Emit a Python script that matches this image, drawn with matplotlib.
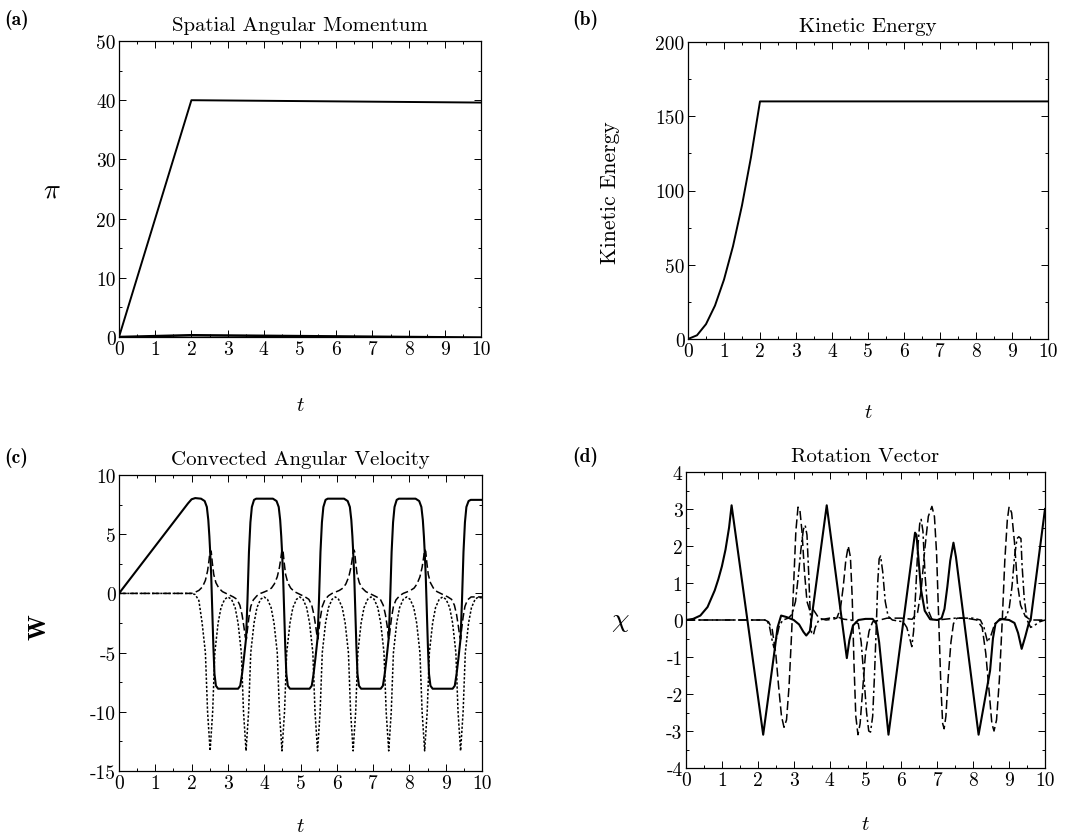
import matplotlib
matplotlib.use("Agg")
import matplotlib.pyplot as plt
from matplotlib.ticker import MultipleLocator
import warnings
warnings.filterwarnings("ignore")

plt.rcParams['font.family'] = ['cmr10', 'DejaVu Serif']
plt.rcParams['mathtext.fontset'] = 'cm'
plt.rcParams['axes.unicode_minus'] = False
plt.rcParams['axes.formatter.use_mathtext'] = False

# ---------------- data ----------------
# (a) spatial angular momentum
pi_t = [0.0, 0.5, 1.0, 1.5, 2.0, 6.0, 10.0]
pi_main = [0.0, 10.0, 20.0, 30.0, 40.0, 39.8, 39.6]
pi_small_t = [0.0, 2.0, 6.0, 10.0]
pi_small = [0.0, 0.3, 0.1, -0.1]

# (b) kinetic energy
ke_t = [0.0, 0.25, 0.5, 0.75, 1.0, 1.25, 1.5, 1.75, 2.0, 10.0]
ke = [0.0, 2.5, 10.0, 22.5, 40.0, 62.5, 90.0, 122.5, 160.0, 160.0]

# (c) convected angular velocity: solid component
w1_t = [0, 0.5, 1.0, 1.5, 1.9, 2.0, 2.1,
        2.26, 2.36, 2.42, 2.46, 2.49, 2.51, 2.54, 2.57, 2.60, 2.63, 2.67, 2.73,
        3.28, 3.34, 3.39, 3.44, 3.50, 3.54, 3.58, 3.62, 3.66, 3.72, 3.78,
        4.24, 4.34, 4.40, 4.44, 4.47, 4.49, 4.52, 4.55, 4.58, 4.61, 4.65, 4.71,
        5.25, 5.31, 5.36, 5.41, 5.47, 5.51, 5.55, 5.59, 5.63, 5.69, 5.75,
        6.20, 6.30, 6.36, 6.40, 6.43, 6.45, 6.48, 6.51, 6.54, 6.57, 6.61, 6.67,
        7.21, 7.27, 7.32, 7.37, 7.43, 7.47, 7.51, 7.55, 7.59, 7.65, 7.71,
        8.17, 8.27, 8.33, 8.37, 8.40, 8.42, 8.45, 8.48, 8.51, 8.54, 8.58, 8.64,
        9.19, 9.25, 9.30, 9.35, 9.41, 9.45, 9.49, 9.53, 9.57, 9.63, 9.69, 10.0]
w1 = [0, 2.0, 4.0, 6.0, 7.6, 7.95, 8.05,
      8.0, 7.8, 7.3, 6.2, 4.8, 3.6, 1.5, -1.5, -4.5, -6.8, -7.8, -8.05,
      -8.05, -7.8, -6.8, -5.5, -3.8, -0.5, 3.5, 6.0, 7.3, 7.9, 8.0,
      8.0, 7.8, 7.3, 6.2, 4.8, 3.6, 1.5, -1.5, -4.5, -6.8, -7.8, -8.05,
      -8.05, -7.8, -6.8, -5.5, -3.8, -0.5, 3.5, 6.0, 7.3, 7.9, 8.0,
      8.0, 7.8, 7.3, 6.2, 4.8, 3.6, 1.5, -1.5, -4.5, -6.8, -7.8, -8.05,
      -8.05, -7.8, -6.8, -5.5, -3.8, -0.5, 3.5, 6.0, 7.3, 7.9, 8.0,
      8.0, 7.8, 7.3, 6.2, 4.8, 3.6, 1.5, -1.5, -4.5, -6.8, -7.8, -8.05,
      -8.05, -7.8, -6.8, -5.5, -3.8, -0.5, 3.5, 6.0, 7.3, 7.8, 7.9, 7.9]

# (c) dashed component
w2_t = [0, 2.0, 2.1, 2.2, 2.3, 2.38, 2.44, 2.48, 2.51, 2.54, 2.57, 2.61, 2.67, 2.75, 2.85,
        2.95, 3.05, 3.15, 3.25, 3.33, 3.39, 3.44, 3.48, 3.51, 3.54, 3.58, 3.63, 3.70, 3.80, 3.90,
        4.0, 4.1, 4.2, 4.28, 4.36, 4.42, 4.46, 4.49, 4.52, 4.55, 4.59, 4.65, 4.73, 4.83,
        4.93, 5.03, 5.13, 5.23, 5.31, 5.37, 5.42, 5.46, 5.48, 5.51, 5.55, 5.60, 5.67, 5.77, 5.87,
        5.97, 6.07, 6.17, 6.25, 6.33, 6.39, 6.43, 6.46, 6.49, 6.52, 6.56, 6.62, 6.70, 6.80,
        6.90, 7.00, 7.10, 7.20, 7.28, 7.34, 7.39, 7.42, 7.44, 7.47, 7.51, 7.56, 7.63, 7.73, 7.83,
        7.93, 8.03, 8.13, 8.21, 8.29, 8.35, 8.39, 8.42, 8.45, 8.48, 8.52, 8.58, 8.66, 8.76,
        8.86, 8.96, 9.06, 9.16, 9.24, 9.30, 9.35, 9.39, 9.41, 9.44, 9.48, 9.53, 9.60, 9.70, 9.85, 10.0]
w2 = [0, 0.0, 0.1, 0.25, 0.55, 1.1, 1.9, 2.8, 3.65, 3.55, 2.6, 1.6, 0.9, 0.45, 0.15,
      0.0, -0.15, -0.3, -0.5, -1.0, -1.8, -2.8, -3.7, -3.85, -3.0, -2.0, -1.1, -0.55, -0.2, 0.0,
      0.12, 0.25, 0.45, 0.8, 1.4, 2.2, 3.0, 3.7, 3.55, 2.6, 1.6, 0.9, 0.45, 0.15,
      0.0, -0.15, -0.3, -0.5, -1.0, -1.8, -2.8, -3.7, -3.85, -3.0, -2.0, -1.1, -0.55, -0.2, 0.0,
      0.12, 0.25, 0.45, 0.8, 1.4, 2.2, 3.0, 3.7, 3.55, 2.6, 1.6, 0.9, 0.45, 0.15,
      0.0, -0.15, -0.3, -0.5, -1.0, -1.8, -2.8, -3.7, -3.85, -3.0, -2.0, -1.1, -0.55, -0.2, 0.0,
      0.12, 0.25, 0.45, 0.8, 1.4, 2.2, 3.0, 3.7, 3.55, 2.6, 1.6, 0.9, 0.45, 0.15,
      0.0, -0.15, -0.3, -0.5, -1.0, -1.8, -2.8, -3.7, -3.85, -3.0, -2.0, -1.1, -0.55, -0.3, -0.3, -0.3]

# (c) dotted component
w3_t = [0, 2.0, 2.1, 2.2, 2.29, 2.38, 2.44, 2.51, 2.58, 2.64, 2.73, 2.81, 2.91, 3.0,
        3.10, 3.20, 3.28, 3.37, 3.43, 3.50, 3.57, 3.63, 3.72, 3.80, 3.90, 3.995,
        4.09, 4.19, 4.27, 4.36, 4.42, 4.49, 4.56, 4.62, 4.71, 4.79, 4.89, 4.98,
        5.07, 5.17, 5.25, 5.34, 5.40, 5.47, 5.54, 5.60, 5.69, 5.77, 5.87, 5.96,
        6.05, 6.15, 6.23, 6.32, 6.38, 6.45, 6.52, 6.58, 6.67, 6.75, 6.85, 6.94,
        7.03, 7.13, 7.21, 7.30, 7.36, 7.43, 7.50, 7.56, 7.65, 7.73, 7.83, 7.925,
        8.02, 8.12, 8.20, 8.29, 8.35, 8.42, 8.49, 8.55, 8.64, 8.72, 8.82, 8.915,
        9.01, 9.11, 9.19, 9.28, 9.34, 9.41, 9.48, 9.54, 9.63, 9.71, 9.81, 9.90, 10.0]
w3 = [0, 0.0, -0.1, -0.6, -2.5, -5.0, -10.0, -13.3, -10.0, -5.0, -2.5, -1.2, -0.5, -0.3,
      -0.5, -1.2, -2.5, -5.0, -10.0, -13.3, -10.0, -5.0, -2.5, -1.2, -0.5, -0.3,
      -0.5, -1.2, -2.5, -5.0, -10.0, -13.3, -10.0, -5.0, -2.5, -1.2, -0.5, -0.3,
      -0.5, -1.2, -2.5, -5.0, -10.0, -13.3, -10.0, -5.0, -2.5, -1.2, -0.5, -0.3,
      -0.5, -1.2, -2.5, -5.0, -10.0, -13.3, -10.0, -5.0, -2.5, -1.2, -0.5, -0.3,
      -0.5, -1.2, -2.5, -5.0, -10.0, -13.3, -10.0, -5.0, -2.5, -1.2, -0.5, -0.3,
      -0.5, -1.2, -2.5, -5.0, -10.0, -13.3, -10.0, -5.0, -2.5, -1.2, -0.5, -0.3,
      -0.5, -1.2, -2.5, -5.0, -10.0, -13.3, -10.0, -5.0, -2.5, -1.2, -0.5, -0.3, -0.4]

# (d) rotation vector: solid component
x1_t = [0, 0.2, 0.4, 0.6, 0.8, 0.9, 1.0, 1.1, 1.2, 1.27,
        2.15,
        2.45, 2.55, 2.65, 2.8, 3.0, 3.15, 3.27, 3.35, 3.45,
        3.92,
        4.48, 4.55, 4.65, 4.8, 5.0, 5.2, 5.3, 5.38,
        5.64,
        6.38, 6.42, 6.48, 6.55, 6.65, 6.8, 7.0, 7.12, 7.2, 7.28, 7.36, 7.45, 7.52,
        8.15,
        8.47, 8.55, 8.62, 8.75, 9.0, 9.15, 9.25, 9.35, 9.45, 9.55, 9.6,
        10.0]
x1 = [0, 0.03, 0.12, 0.35, 0.8, 1.1, 1.45, 1.9, 2.5, 3.1,
      -3.1,
      -0.95, -0.2, 0.12, 0.08, 0.0, -0.12, -0.32, -0.42, -0.3,
      3.1,
      -1.03, -0.55, -0.15, 0.0, 0.03, 0.03, -0.1, -0.6,
      -3.1,
      2.36, 2.3, 1.6, 0.8, 0.25, 0.02, 0.0, 0.05, 0.3, 0.9, 1.6, 2.09, 1.7,
      -3.1,
      -1.37, -0.5, -0.1, 0.03, 0.0, -0.08, -0.35, -0.78, -0.45, -0.08, 0.0,
      3.0]

# (d) dashed component
x2_t = [0, 2.2, 2.3, 2.4, 2.5, 2.58, 2.66, 2.73, 2.8, 2.87, 2.94, 3.0, 3.06, 3.12, 3.17,
        3.23, 3.3, 3.37, 3.45, 3.53, 3.6, 3.7, 3.9, 4.1, 4.2, 4.3, 4.38, 4.45, 4.52,
        4.58, 4.63, 4.68, 4.73, 4.79, 4.85, 4.92, 5.0, 5.1, 5.2, 5.4, 5.6, 6.0, 6.3,
        6.45, 6.55, 6.65, 6.75, 6.85, 6.92, 6.98, 7.04, 7.1, 7.15, 7.19, 7.24, 7.3, 7.38,
        7.45, 7.55, 7.8, 8.1, 8.25, 8.35, 8.45, 8.52, 8.58, 8.65, 8.73, 8.81, 8.88, 8.95,
        9.0, 9.07, 9.15, 9.23, 9.32, 9.45, 9.6, 10.0]
x2 = [0, 0.0, -0.05, -0.25, -0.9, -1.8, -2.6, -2.9, -2.7, -1.8, -0.4, 1.0, 2.4, 3.05, 3.0,
      2.4, 1.3, 0.5, 0.25, 0.3, 0.2, 0.05, 0.0, 0.02, 0.05, 0.3, 0.9, 1.6, 2.0,
      1.7, 0.6, -1.2, -2.6, -3.1, -2.8, -1.9, -0.9, -0.3, -0.05, 0.0, 0.05, 0.05, 0.02,
      0.2, 0.8, 1.9, 2.8, 3.07, 2.8, 1.8, 0.0, -1.8, -2.8, -2.94, -2.6, -1.6, -0.6,
      -0.1, 0.05, 0.05, 0.0, -0.2, -0.9, -2.0, -2.8, -3.0, -2.7, -1.6, 0.0, 1.6, 2.7,
      3.06, 2.9, 2.1, 1.0, 0.4, 0.1, 0.0, 0.0]

# (d) dash-dot component
x3_t = [0, 2.25, 2.32, 2.4, 2.45, 2.52, 2.6, 2.7, 2.85, 2.95, 3.05, 3.13, 3.2, 3.27, 3.32,
        3.37, 3.42, 3.46, 3.5, 3.55, 3.6, 3.7, 4.0, 4.25, 4.4, 4.6, 4.8, 4.88, 4.96, 5.03,
        5.09, 5.14, 5.2, 5.25, 5.3, 5.34, 5.38, 5.42, 5.48, 5.55, 5.63, 5.75, 6.05, 6.15,
        6.22, 6.29, 6.34, 6.4, 6.46, 6.51, 6.55, 6.6, 6.66, 6.73, 6.85, 7.0, 7.5, 8.0,
        8.2, 8.3, 8.4, 8.5, 8.6, 8.75, 8.9, 9.0, 9.08, 9.15, 9.22, 9.27, 9.33, 9.36, 9.42,
        9.5, 9.6, 9.7, 9.85, 10.0]
x3 = [0, 0.0, -0.15, -0.55, -0.75, -0.5, -0.15, 0.0, 0.05, 0.15, 0.5, 1.2, 1.9, 2.45, 2.56,
      2.3, 1.2, 0.2, -0.35, -0.4, -0.2, 0.0, 0.05, 0.07, 0.02, 0.0, -0.1, -0.6, -1.6, -2.5,
      -3.0, -3.03, -2.6, -1.5, -0.2, 1.0, 1.65, 1.73, 1.3, 0.5, 0.1, 0.0, -0.05, -0.2,
      -0.45, -0.72, -0.3, 0.8, 2.0, 2.6, 2.72, 2.4, 1.2, 0.3, 0.02, 0.0, 0.05, 0.05,
      0.0, -0.2, -0.6, -0.4, -0.1, 0.0, 0.05, 0.3, 0.9, 1.7, 2.2, 2.25, 2.2, 1.5, 0.6,
      0.0, -0.2, -0.15, -0.05, 0.0]

t_ticks = list(range(0, 11))

# ---------------- figure ----------------
W, H = 1082, 837
fig = plt.figure(figsize=(W / 100, H / 100), dpi=100)


def make_ax(left, top, right, bottom):
    return fig.add_axes([left / W, 1 - bottom / H, (right - left) / W, (bottom - top) / H])


TICK_FS = 14
TITLE_FS = 15


def style(ax, ylim, ymajor, yminor, title, ylabel, ylab_xy, xlab_y, ylab_kw=None):
    ax.set_xlim(0, 10)
    ax.set_ylim(*ylim)
    ax.set_xticks(t_ticks)
    ax.xaxis.set_minor_locator(MultipleLocator(0.5))
    ax.yaxis.set_major_locator(MultipleLocator(ymajor))
    ax.yaxis.set_minor_locator(MultipleLocator(yminor))
    ax.tick_params(which='both', direction='in', top=True, right=True,
                   labelsize=TICK_FS, width=0.7)
    ax.tick_params(which='major', length=5, pad=2.5)
    ax.tick_params(which='minor', length=2.5)
    for s in ax.spines.values():
        s.set_linewidth(0.9)
    ax.set_title(title, fontsize=TITLE_FS, pad=8)
    kw = dict(fontsize=15)
    if ylab_kw:
        kw.update(ylab_kw)
    ax.set_ylabel(ylabel, **kw)
    ax.yaxis.set_label_coords(*ylab_xy)
    ax.set_xlabel('$t$', fontsize=15)
    ax.xaxis.set_label_coords(0.5, xlab_y)


# (a)
axa = make_ax(119, 42, 481, 338)
axa.plot(pi_t, pi_main, color='black', lw=1.4)
axa.plot(pi_small_t, pi_small, color='black', lw=1.8)
style(axa, (0, 50), 10, 5, 'Spatial Angular Momentum', r'$\pi$', (-0.185, 0.5), -0.2,
      dict(fontsize=20, rotation=0, va='center', ha='center'))

# (b)
axb = make_ax(688, 43, 1048, 340)
axb.plot(ke_t, ke, color='black', lw=1.4)
style(axb, (0, 200), 50, 25, 'Kinetic Energy', 'Kinetic Energy', (-0.217, 0.495), -0.215,
      dict(fontsize=15.5, va='center', ha='center'))

# (c)
axc = make_ax(119, 476, 482, 772)
axc.plot(w1_t, w1, color='black', lw=1.5)
axc.plot(w2_t, w2, color='black', lw=1.1, linestyle=(0, (5, 2.2)))
axc.plot(w3_t, w3, color='black', lw=1.1, linestyle=(0, (1.5, 1.2)))
style(axc, (-15, 10), 5, 2.5, 'Convected Angular Velocity', r'$\mathbf{W}$', (-0.218, 0.49), -0.155,
      dict(fontsize=18, va='center', ha='center'))

# (d)
axd = make_ax(686, 473, 1045, 769)
axd.plot(x1_t, x1, color='black', lw=1.5)
axd.plot(x2_t, x2, color='black', lw=1.1, linestyle=(0, (6, 2.5)))
axd.plot(x3_t, x3, color='black', lw=1.1, linestyle=(0, (6, 2, 1.5, 2)))
style(axd, (-4, 4), 1, 0.5, 'Rotation Vector', r'$\chi$', (-0.184, 0.5), -0.16,
      dict(fontsize=20, rotation=0, va='center', ha='center'))

# panel labels
for (px, py, lab) in [(17, 20, '(a)'), (585, 20, '(b)'), (16, 458, '(c)'), (585, 457, '(d)')]:
    fig.text(px / W, 1 - py / H, lab, fontsize=14, family=['cmb10', 'DejaVu Serif'],
             ha='center', va='center')

fig.savefig('out.png', dpi=100)
